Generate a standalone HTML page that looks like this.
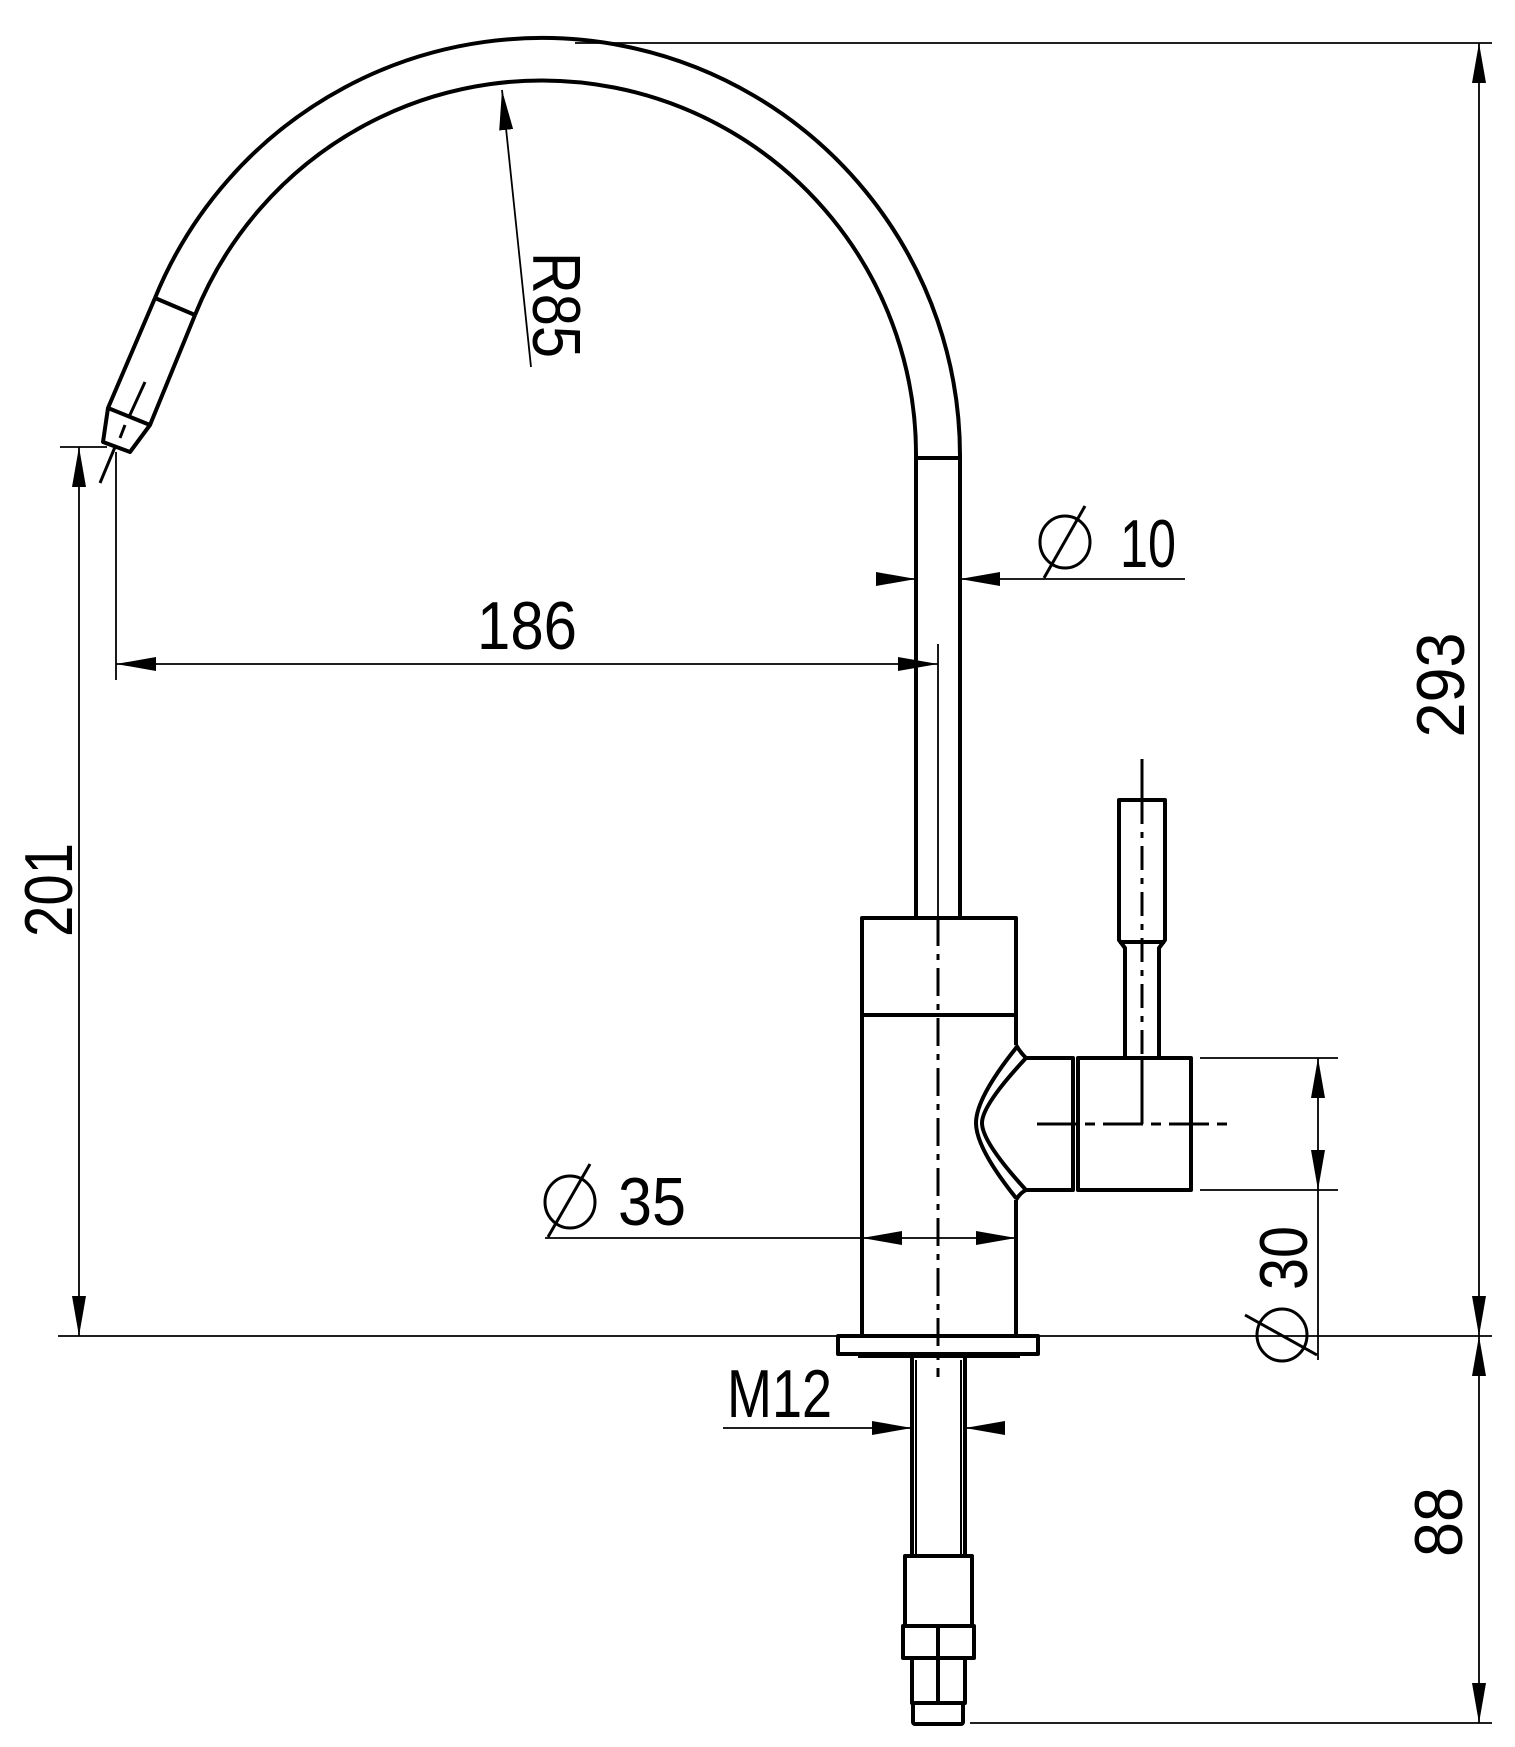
<!DOCTYPE html>
<html><head><meta charset="utf-8"><style>html,body{margin:0;padding:0;background:#fff}svg{display:block}
text{font-family:"Liberation Sans",sans-serif;font-size:68px;fill:#000}</style></head>
<body>
<svg width="1515" height="1747" viewBox="0 0 1515 1747" xmlns="http://www.w3.org/2000/svg">
<defs>
<marker id="a" viewBox="0 0 40 14" refX="40" refY="7" markerWidth="40" markerHeight="14" markerUnits="userSpaceOnUse" orient="auto"><path d="M0,0 L40,7 L0,14 Z" fill="#000"/></marker>
</defs>
<g fill="none" stroke="#000" stroke-width="4" stroke-linejoin="round">
<path d="M155,298 A418,418 0 0 1 960,458 L960,918"/>
<path d="M195,315 A374,374 0 0 1 916,458 L916,918"/>
<line x1="916" y1="458" x2="960" y2="458"/>
<path d="M155,298 L195,315"/>
<path d="M155,298 L108,408 L103,442 L130,452 L150,425 L195,315"/>
<line x1="108" y1="408" x2="150" y2="425"/>
<path d="M862,1336 L862,918 L1016,918 L1016,1045 M1016,1200 L1016,1336"/>
<line x1="862" y1="1015" x2="1016" y2="1015"/>
<path d="M1016,1045 Q1020,1052 1026,1058 M1016,1200 Q1020,1193 1026,1190"/>
<path d="M1016,1048 Q976,1098 976,1123 Q976,1148 1016,1198"/>
<path d="M1026,1058 Q982,1105 982,1123 Q982,1142 1026,1190"/>
<path d="M1026,1058 L1073,1058 L1073,1190 L1026,1190"/>
<rect x="1078" y="1058" width="113" height="132"/>
<path d="M1125,1058 L1125,948 L1119,940 L1119,800 L1165,800 L1165,940 L1159,948 L1159,1058"/>
<line x1="1119" y1="942" x2="1165" y2="942"/>
<rect x="838" y="1336" width="200" height="18"/>
<line x1="858" y1="1356" x2="1020" y2="1356"/>
<line x1="912" y1="1356" x2="912" y2="1556"/>
<line x1="965" y1="1356" x2="965" y2="1556"/>
<rect x="905" y="1556" width="67" height="70"/>
<rect x="903" y="1626" width="71" height="32"/>
<rect x="912" y="1658" width="53" height="45"/>
<rect x="913" y="1703" width="50" height="21" rx="2"/>
<line x1="938" y1="1626" x2="938" y2="1703"/>
</g>
<g fill="none" stroke="#000" stroke-width="2">
<line x1="916" y1="1360" x2="916" y2="1556"/>
<line x1="961" y1="1360" x2="961" y2="1556"/>
</g>
<g fill="none" stroke="#000" stroke-width="3">
<line x1="938" y1="918" x2="938" y2="1377" stroke-dasharray="28,8,6,8"/>
<line x1="1142" y1="800" x2="1142" y2="1058" stroke-dasharray="24,8,6,8"/>
<line x1="1142" y1="759" x2="1142" y2="800"/>
<line x1="1142" y1="1058" x2="1142" y2="1124"/>
<line x1="1037" y1="1124" x2="1231" y2="1124" stroke-dasharray="40,8,10,8"/>
<line x1="145" y1="382" x2="129" y2="417"/>
<line x1="125" y1="425" x2="120" y2="438"/>
<line x1="115" y1="447" x2="100" y2="483"/>
</g>
<g fill="none" stroke="#000" stroke-width="1.8">
<line x1="575" y1="43" x2="1492" y2="43"/>
<line x1="58" y1="1336" x2="1492" y2="1336"/>
<line x1="970" y1="1723" x2="1492" y2="1723"/>
<line x1="1479" y1="690" x2="1479" y2="43" marker-end="url(#a)"/>
<line x1="1479" y1="690" x2="1479" y2="1336" marker-end="url(#a)"/>
<line x1="1479" y1="1530" x2="1479" y2="1336" marker-end="url(#a)"/>
<line x1="1479" y1="1530" x2="1479" y2="1723" marker-end="url(#a)"/>
<line x1="60" y1="447" x2="107" y2="447"/>
<line x1="79" y1="890" x2="79" y2="447" marker-end="url(#a)"/>
<line x1="79" y1="890" x2="79" y2="1336" marker-end="url(#a)"/>
<line x1="116" y1="452" x2="116" y2="680"/>
<line x1="500" y1="664" x2="116" y2="664" marker-end="url(#a)"/>
<line x1="500" y1="664" x2="938" y2="664" marker-end="url(#a)"/>
<line x1="938" y1="644" x2="938" y2="918"/>
<line x1="877" y1="579" x2="916" y2="579" marker-end="url(#a)"/>
<line x1="1185" y1="579" x2="960" y2="579" marker-end="url(#a)"/>
<line x1="545" y1="1238" x2="862" y2="1238"/>
<line x1="938" y1="1238" x2="862" y2="1238" marker-end="url(#a)"/>
<line x1="938" y1="1238" x2="1016" y2="1238" marker-end="url(#a)"/>
<line x1="723" y1="1428" x2="912" y2="1428" marker-end="url(#a)"/>
<line x1="1005" y1="1428" x2="965" y2="1428" marker-end="url(#a)"/>
<line x1="1200" y1="1058" x2="1338" y2="1058"/>
<line x1="1200" y1="1190" x2="1338" y2="1190"/>
<line x1="1318" y1="1124" x2="1318" y2="1058" marker-end="url(#a)"/>
<line x1="1318" y1="1124" x2="1318" y2="1190" marker-end="url(#a)"/>
<line x1="1318" y1="1190" x2="1318" y2="1360"/>
<line x1="531" y1="367" x2="502" y2="90" marker-end="url(#a)"/>
</g>
<g fill="none" stroke="#000" stroke-width="3">
<ellipse cx="1065" cy="542" rx="25" ry="26"/><line x1="1044" y1="578" x2="1085" y2="506"/>
<ellipse cx="570" cy="1202" rx="25" ry="26"/><line x1="548" y1="1237" x2="590" y2="1164"/>
<ellipse cx="1282" cy="1335" rx="25" ry="26"/><line x1="1245" y1="1315" x2="1317" y2="1355"/>
</g>
<text x="1120" y="567" textLength="56" lengthAdjust="spacingAndGlyphs">10</text>
<text x="477" y="649" textLength="100" lengthAdjust="spacingAndGlyphs">186</text>
<text x="618" y="1225" textLength="68" lengthAdjust="spacingAndGlyphs">35</text>
<text x="727" y="1417" textLength="105" lengthAdjust="spacingAndGlyphs">M12</text>
<text transform="translate(1464,685) rotate(-90)" text-anchor="middle" textLength="105" lengthAdjust="spacingAndGlyphs">293</text>
<text transform="translate(1462,1522) rotate(-90)" text-anchor="middle" textLength="70" lengthAdjust="spacingAndGlyphs">88</text>
<text transform="translate(72,890) rotate(-90)" text-anchor="middle" textLength="94" lengthAdjust="spacingAndGlyphs">201</text>
<text transform="translate(1307,1258) rotate(-90)" text-anchor="middle" textLength="64" lengthAdjust="spacingAndGlyphs">30</text>
<text transform="translate(533,305) rotate(90)" text-anchor="middle" textLength="106" lengthAdjust="spacingAndGlyphs">R85</text>
</svg>
</body></html>
